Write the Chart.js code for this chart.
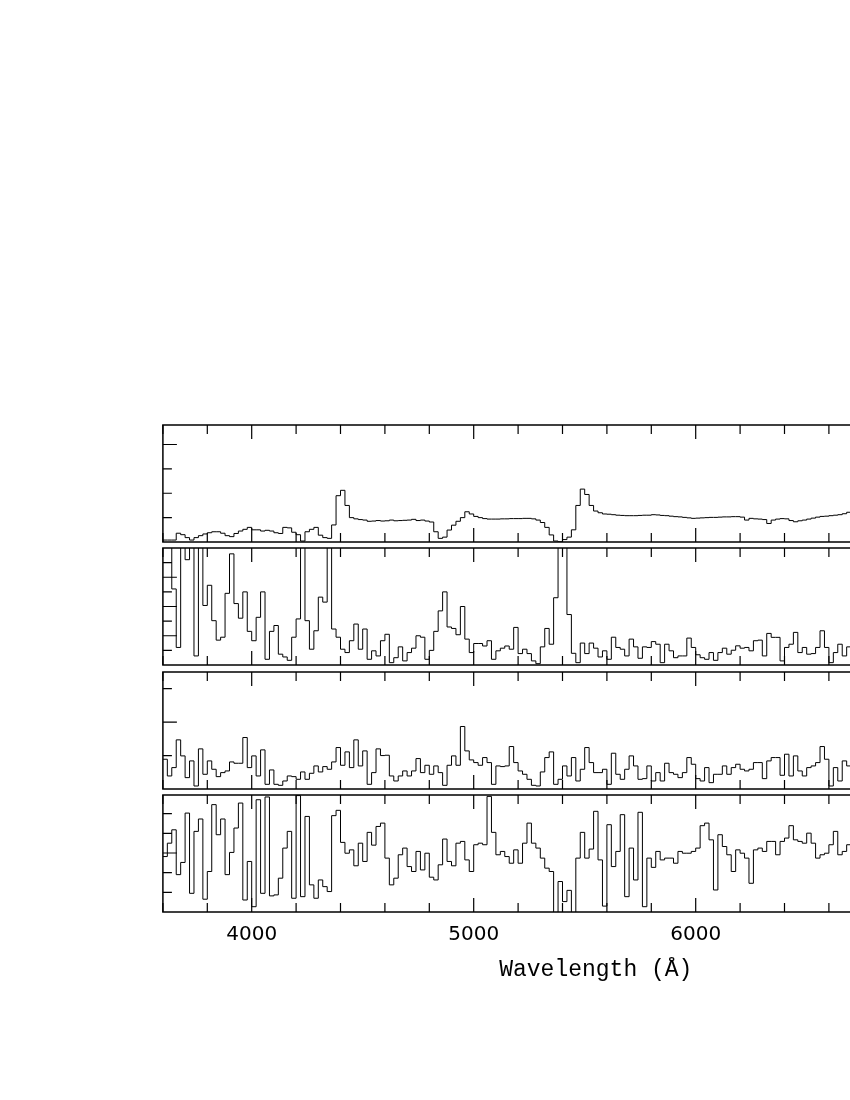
<!DOCTYPE html>
<html lang="en">
<head>
<meta charset="UTF-8">
<title>Spectra</title>
<script src="https://cdn.jsdelivr.net/npm/chart.js"></script>
<style>
  html, body { margin: 0; padding: 0; background: #fff; }
  body { width: 850px; height: 1100px; overflow: hidden; position: relative; }
  canvas { position: absolute; left: 0; }
</style>
</head>
<body>
<canvas id="p1"></canvas>
<canvas id="p2"></canvas>
<canvas id="p3"></canvas>
<canvas id="p4"></canvas>
<script>
// wavelength grid: bins of 20 A starting at 3600 A
const binStart = 3600;
const binWidth = 20;
const xTickLabels = [4000, 5000, 6000, 7000];

// panel 1 (smooth spectrum)
const p1 = [
  0.08,0.08,0.08,0.36,0.3,0.18,0.08,0.18,0.26,0.33, 0.38,0.42,0.42,0.36,0.26,0.22,0.35,0.45,0.52,0.6,
  0.5,0.5,0.45,0.48,0.45,0.38,0.35,0.6,0.58,0.4, 0.3,0.04,0.42,0.52,0.6,0.28,0.18,0.15,0.7,1.9,
  2.12,1.5,1.0,0.95,0.92,0.9,0.85,0.86,0.88,
  0.86,0.87,0.9,0.87,0.88,0.89,0.9,0.93,0.88,0.9, 0.86,0.82,0.42,0.15,0.2,0.49,0.69,0.85,1.0,1.24,
  1.15,1.05,1.0,0.96,0.94,0.94,0.94,0.95,0.95,0.96, 0.96,0.96,0.97,0.97,0.95,0.9,0.8,0.6,0.29,0.04,
  0.01,0.1,0.2,0.5,1.5,2.17,1.95,1.5,1.27,1.2, 1.15,1.14,1.12,1.1,1.09,1.08,
  1.08,1.08,1.09,1.1,1.1, 1.12,1.11,1.09,1.08,1.06, 1.04,1.03,1.01,0.99,0.97, 0.98,0.99,1.0,1.01,1.01,
  1.02,1.03,1.03,1.04,1.04, 1.02,0.9,0.97,0.95,0.94, 0.92,0.76,0.9,0.94,0.96, 0.95,0.88,0.83,0.87,0.9,
  0.94,0.98,1.02,1.05,1.06, 1.08,1.1,1.12,1.16,1.22, 1.3
];

// panel 2
const p2 = [
  9,9,5.2,1.2,9,7.2,9,0.62,9,4.07, 5.45,3.03,1.7,1.9,4.9,7.6,4.2,3.2,5.0,2.3,
  1.66,3.26,5.0,0.39,2.3,2.7,0.74,0.55,0.32,1.9, 3.15,9,3.03,1.08,2.34,4.64,4.3,9,2.46,1.9,
  1.08,0.85,1.66,2.8,1.08,2.46,0.39,0.97,0.62,
  1.66,2.1,0.16,0.5,1.24,0.28,0.85,1.15,2.0,1.9, 0.39,1.0,2.3,3.7,5.0,2.6,2.5,2.07,4.0,1.77,
  0.85,1.47,1.47,1.3,1.66,0.39,0.97,1.15,1.3,1.08, 2.57,0.78,1.08,0.78,0.28,0.09,1.24,2.5,1.42,4.6,
  9,9,3.45,0.8,0.16,1.5,0.78,1.5,1.15,0.55, 0.97,0.39,1.9,1.2,1.08,0.62,
  1.77,1.24,0.46,1.24,1.2, 1.6,1.42,0.16,1.42,0.97, 0.5,0.62,0.62,1.84,1.2, 0.7,0.5,0.39,0.85,0.32,
  0.85,1.15,0.74,1.01,1.31, 1.15,1.2,0.97,1.66,1.7, 0.62,2.16,1.89,1.89,0.28, 1.2,1.42,2.23,0.85,1.2,
  0.74,0.78,1.2,2.34,1.2, 0.16,0.85,1.42,0.62,1.24, 1.0
];

// panel 3
const p3 = [
  0.89,0.39,0.64,1.47,0.99,0.34,0.84,0.09,1.2,0.44, 0.84,0.59,0.37,0.49,0.54,0.81,0.77,0.77,1.54,0.64,
  0.99,0.39,1.17,0.14,0.57,0.14,0.11,0.24,0.39,0.37, 0.29,0.51,0.29,0.47,0.69,0.51,0.67,0.59,0.81,1.24,
  0.71,1.11,0.64,1.47,0.69,1.14,0.14,0.49,1.2,
  1.0,1.01,0.39,0.24,0.39,0.54,0.39,0.54,0.91,0.49, 0.71,0.44,0.69,0.49,0.11,0.71,0.99,0.71,1.87,1.14,
  0.87,0.79,0.71,0.94,0.79,0.14,0.69,0.67,0.69,1.27, 0.79,0.54,0.44,0.29,0.11,0.09,0.51,0.94,1.11,0.14,
  0.29,0.69,0.39,0.94,0.24,0.59,1.24,0.79,0.49,0.49, 0.59,0.14,1.07,0.44,0.29,0.59,
  0.99,0.69,0.29,0.31,0.69, 0.24,0.49,0.24,0.77,0.49, 0.44,0.34,0.49,0.94,0.74, 0.31,0.24,0.64,0.19,0.44,
  0.44,0.69,0.44,0.64,0.74, 0.59,0.54,0.59,0.79,0.79, 0.31,0.84,0.94,0.94,0.41, 1.04,0.39,0.99,0.54,0.39,
  0.64,0.69,0.79,1.27,0.89, 0.09,0.64,0.24,0.84,0.69, 0.7
];

// panel 4
const p4 = [
  2.82,3.5,4.18,1.9,2.52,5.03,0.95,4.1,4.73,0.65, 2.06,5.46,3.93,4.73,1.9,3.03,4.27,5.54,0.61,2.57,
  0.27,5.71,0.95,5.85,0.82,0.87,1.72,3.25,4.1,0.7, 5.92,0.78,4.86,1.38,0.7,1.63,1.29,1.04,4.9,5.17,
  3.54,2.99,3.16,2.35,3.5,2.57,4.05,3.4,4.35,
  4.52,2.74,1.38,1.72,2.91,3.25,2.31,2.06,3.08,2.14, 2.99,1.77,1.63,2.4,3.71,2.57,2.35,3.5,3.59,2.65,
  2.06,3.42,3.5,3.42,5.88,4.05,2.91,3.08,2.82,2.48, 3.16,2.48,3.5,4.52,3.5,3.25,2.74,2.23,2.06,-0.3,
  1.55,0.53,1.1,-0.3,2.74,4.05,2.74,3.2,5.12,2.65, 0.3,4.44,2.31,3.08,4.95,0.78,
  3.25,1.63,5.07,0.27,2.74, 2.27,3.08,2.65,2.74,2.74, 2.48,3.08,2.99,2.99,3.08, 3.25,4.39,4.52,3.67,1.12,
  3.93,3.33,2.91,2.06,3.16, 2.99,2.74,1.46,3.16,3.25, 3.08,3.59,3.59,2.91,3.59, 3.76,4.39,3.67,3.59,3.5,
  4.01,3.5,2.74,2.91,2.99, 3.42,4.1,2.91,3.08,3.42, 3.3
];

const xMin = 3600, xMax = 7500;
const areaLeft = 162.9, areaRight = 1028.7, areaH = 117;
const canvasW = 1100;

const panels = [
  { id: 'p1', flux: p1, yMax: 4.8,  yTicks: [1, 2, 3, 4],             longTicks: [4],       top: 425 },
  { id: 'p2', flux: p2, yMax: 8.0,  yTicks: [1, 2, 3, 4, 5, 6, 7],    longTicks: [2, 4, 6], top: 548.3 },
  { id: 'p3', flux: p3, yMax: 3.5,  yTicks: [1, 2, 3],                longTicks: [2],       top: 671.6 },
  { id: 'p4', flux: p4, yMax: 5.95, yTicks: [1, 2, 3, 4, 5],          longTicks: [3],       top: 795 }
];

const framePlugin = {
  id: 'frame',
  afterDatasetsDraw(chart, args, opts) {
    const { ctx, chartArea: a } = chart;
    const x = chart.scales.x, y = chart.scales.y;
    ctx.save();
    ctx.strokeStyle = '#000';
    ctx.lineWidth = 1.5;
    ctx.strokeRect(a.left, a.top, a.right - a.left, a.bottom - a.top);
    ctx.lineWidth = 1.2;
    ctx.beginPath();
    for (let v = xMin; v <= xMax; v += 200) {
      const px = x.getPixelForValue(v);
      const len = v % 1000 === 0 ? 14 : 9;
      ctx.moveTo(px, a.top); ctx.lineTo(px, a.top + len);
      ctx.moveTo(px, a.bottom); ctx.lineTo(px, a.bottom - len);
    }
    opts.yTicks.forEach(v => {
      const py = y.getPixelForValue(v);
      const len = opts.longTicks.includes(v) ? 14 : 9;
      ctx.moveTo(a.left, py); ctx.lineTo(a.left + len, py);
    });
    ctx.stroke();
    ctx.restore();
  }
};

panels.forEach((p, k) => {
  const isBottom = k === panels.length - 1;
  const padTop = 10, padBottom = isBottom ? 0 : 10;
  const axisH = isBottom ? 80 : 0;
  const canvas = document.getElementById(p.id);
  canvas.width = canvasW;
  canvas.height = padTop + areaH + axisH + padBottom;
  canvas.style.top = (p.top - padTop) + 'px';

  new Chart(canvas, {
    type: 'line',
    data: {
      datasets: [{
        data: p.flux.map((v, i) => ({ x: binStart + i * binWidth, y: v })),
        stepped: 'before',
        borderColor: '#000',
        borderWidth: 1,
        pointRadius: 0,
        fill: false
      }]
    },
    options: {
      responsive: false,
      animation: false,
      devicePixelRatio: 1,
      layout: { padding: { left: areaLeft, right: canvasW - areaRight, top: padTop, bottom: padBottom } },
      plugins: {
        legend: { display: false },
        tooltip: { enabled: false },
        frame: { yTicks: p.yTicks, longTicks: p.longTicks }
      },
      scales: {
        x: {
          type: 'linear',
          min: xMin,
          max: xMax,
          display: isBottom,
          grid: { display: false, drawTicks: false },
          border: { display: false },
          afterBuildTicks: s => { s.ticks = xTickLabels.map(v => ({ value: v })); },
          afterFit: s => { s.height = axisH; },
          ticks: {
            autoSkip: false,
            maxRotation: 0,
            padding: 11,
            color: '#000',
            font: { family: 'DejaVu Sans', size: 20 },
            callback: v => String(v)
          },
          title: {
            display: true,
            text: 'Wavelength (Å)',
            color: '#000',
            font: { family: 'Liberation Mono', size: 23 },
            padding: { top: 0, bottom: 8 }
          }
        },
        y: { min: 0, max: p.yMax, display: false }
      }
    },
    plugins: [framePlugin]
  });
});
</script>
</body>
</html>
